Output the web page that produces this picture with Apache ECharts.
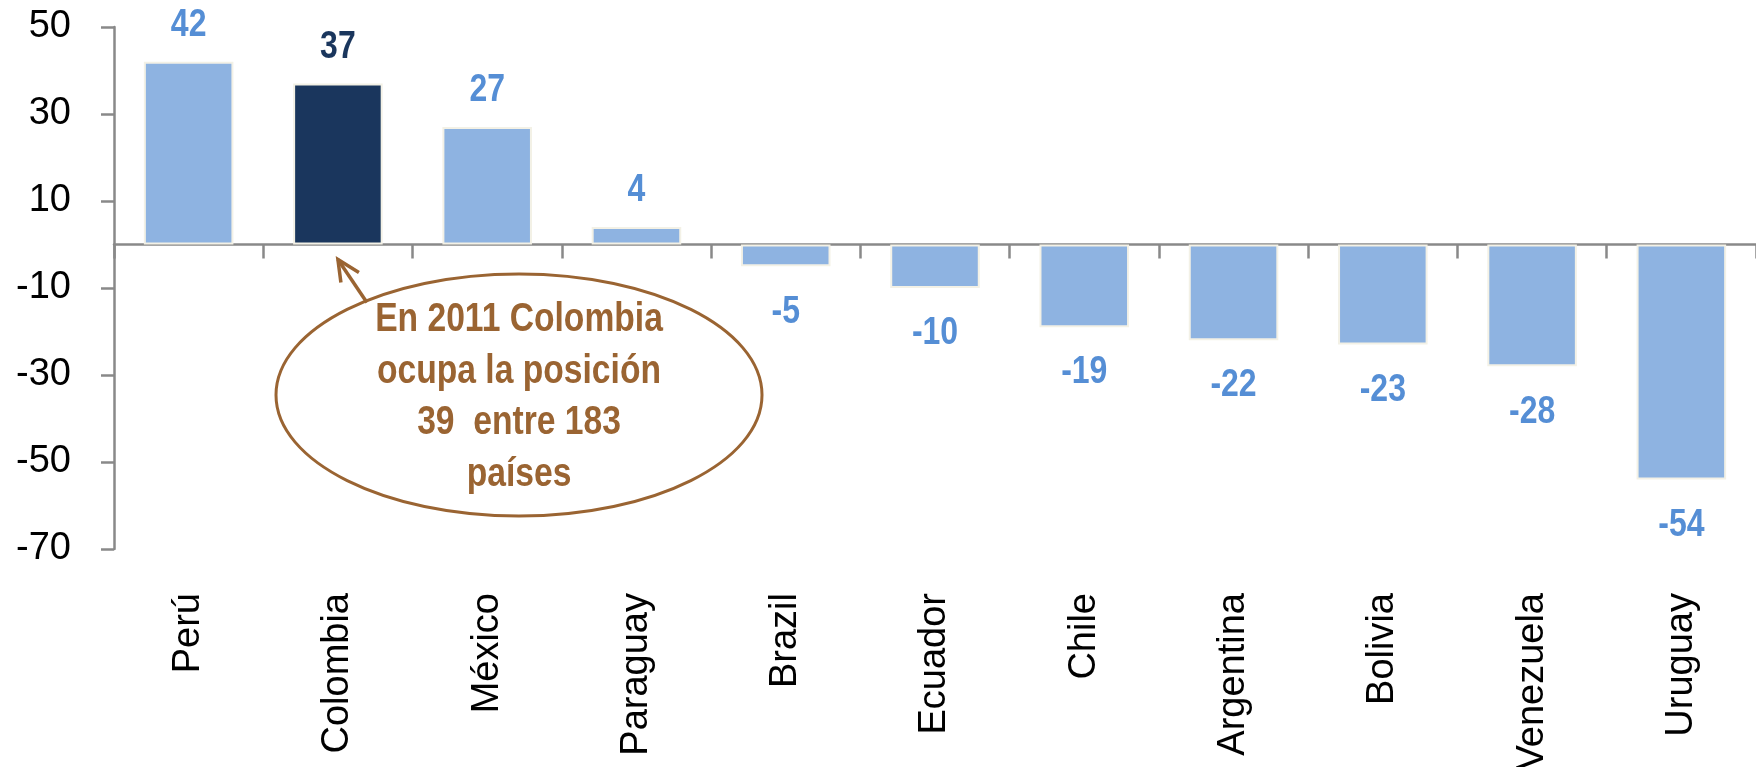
<!DOCTYPE html>
<html>
<head>
<meta charset="utf-8">
<script src="https://cdn.jsdelivr.net/npm/echarts@6/dist/echarts.min.js"></script>
<style>
  html, body { margin: 0; padding: 0; background: #ffffff; }
  #chart { width: 1756px; height: 767px; }
</style>
</head>
<body>
<div id="chart"></div>
<script>
// ---- Data ----
const categories = ['Perú', 'Colombia', 'México', 'Paraguay', 'Brazil', 'Ecuador', 'Chile', 'Argentina', 'Bolivia', 'Venezuela', 'Uruguay'];
const values = [42, 37, 27, 4, -5, -10, -19, -22, -23, -28, -54];
const highlightCategory = 'Colombia';
const yTickValues = [-70, -50, -30, -10, 10, 30, 50];
const annotationLines = ['En 2011 Colombia', 'ocupa la posición', '39  entre 183', 'países'];

// ---- Styles ----
const FONT = "'Liberation Sans', Arial, Helvetica, sans-serif";
const lightBar = '#8EB3E1';
const darkBar = '#1A365D';
const lightLabel = '#558ED5';
const brown = '#9A6432';
const axisGray = '#898989';

const barData = values.map((v, i) => ({
  value: v,
  itemStyle: { color: categories[i] === highlightCategory ? darkBar : lightBar }
}));
const labelData = values.map((v, i) => [i, v]);

const chart = echarts.init(document.getElementById('chart'), null, { renderer: 'canvas' });

const option = {
  animation: false,
  backgroundColor: '#ffffff',
  grid: { left: 114, right: 0, top: 27, bottom: 218, containLabel: false, outerBoundsMode: 'none' },
  xAxis: [
    {
      type: 'category',
      data: categories,
      position: 'bottom',
      axisLine: { show: true, onZero: true, lineStyle: { color: axisGray, width: 2.5 } },
      axisTick: { show: true, length: 14, alignWithLabel: false, lineStyle: { color: axisGray, width: 2.5 } },
      axisLabel: { show: false },
      splitLine: { show: false }
    },
    {
      type: 'category',
      data: categories,
      position: 'bottom',
      axisLine: { show: false, onZero: false },
      axisTick: { show: false },
      axisLabel: {
        show: true,
        rotate: 90,
        margin: 44,
        fontFamily: FONT,
        fontSize: 38,
        color: '#000000',
        interval: 0
      },
      splitLine: { show: false }
    }
  ],
  yAxis: {
    type: 'value',
    min: -70,
    max: 50,
    axisLine: { show: true, lineStyle: { color: axisGray, width: 2.5 } },
    axisTick: { show: true, length: 13, customValues: yTickValues, lineStyle: { color: axisGray, width: 2.5 } },
    axisLabel: {
      show: true,
      customValues: yTickValues,
      margin: 43,
      fontFamily: FONT,
      fontSize: 38,
      color: '#000000'
    },
    splitLine: { show: false }
  },
  series: [
    {
      type: 'bar',
      xAxisIndex: 0,
      yAxisIndex: 0,
      barWidth: '60%',
      data: barData,
      itemStyle: { borderColor: '#F3F1E6', borderWidth: 2 }
    },
    {
      // value labels (narrow bold), positioned through the axes' scales
      type: 'custom',
      xAxisIndex: 0,
      yAxisIndex: 0,
      data: labelData,
      z: 5,
      silent: true,
      renderItem: function (params, api) {
        const idx = api.value(0);
        const v = api.value(1);
        const p = api.coord([idx, v]);
        const hi = categories[idx] === highlightCategory;
        return {
          type: 'text',
          x: p[0],
          y: v >= 0 ? p[1] - 17 : p[1] + 26,
          scaleX: 0.82,
          style: {
            text: String(v),
            font: 'bold 39px ' + FONT,
            fill: hi ? darkBar : lightLabel,
            align: 'center',
            verticalAlign: v >= 0 ? 'bottom' : 'top'
          }
        };
      }
    }
  ]
};

chart.setOption(option);

// ---- Annotation (ellipse with arrow pointing to the highlighted bar) ----
const tip = chart.convertToPixel({ xAxisIndex: 0, yAxisIndex: 0 }, [highlightCategory, 0]);
const tipX = tip[0];
const tipY = tip[1] + 15;
chart.setOption({
  graphic: [
    {
      type: 'ellipse',
      shape: { cx: 519, cy: 395, rx: 243, ry: 121 },
      style: { fill: 'none', stroke: brown, lineWidth: 3 },
      silent: true
    },
    {
      type: 'line',
      shape: { x1: tipX + 29, y1: tipY + 43, x2: tipX, y2: tipY },
      style: { stroke: brown, lineWidth: 3.5 },
      silent: true
    },
    {
      type: 'polyline',
      shape: { points: [[tipX + 21, tipY + 13], [tipX, tipY], [tipX + 3, tipY + 23]] },
      style: { stroke: brown, lineWidth: 3.5, fill: 'none' },
      silent: true
    },
    {
      type: 'text',
      x: 519,
      y: 294,
      scaleX: 0.82,
      style: {
        text: annotationLines.join('\n'),
        font: "bold 41px " + FONT,
        fill: brown,
        align: 'center',
        verticalAlign: 'top',
        lineHeight: 51.5
      },
      silent: true
    }
  ]
});
</script>
</body>
</html>
